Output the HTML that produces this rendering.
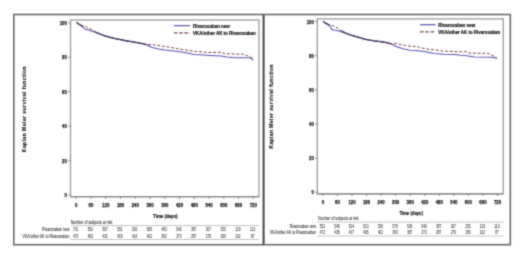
<!DOCTYPE html>
<html><head><meta charset="utf-8"><title>KM curves</title>
<style>
html,body{margin:0;padding:0;background:#fff;width:520px;height:257px;overflow:hidden}
svg{display:block}
</style></head><body>
<svg width="520" height="257" viewBox="0 0 520 257">
<style>
text{font-family:"Liberation Sans",sans-serif;fill:#1a1a1a}
.b{font-weight:bold;stroke:#1a1a1a;stroke-width:0.22px}
.n{fill:#2a2a2a;stroke:#2a2a2a;stroke-width:0.05px}
.d{font-weight:bold;stroke:#1a1a1a;stroke-width:0.25px}
</style>
<defs><filter id="f" x="0" y="0" width="520" height="257" filterUnits="userSpaceOnUse"><feConvolveMatrix order="3" kernelMatrix="0.0277 0.1110 0.0277 0.1110 0.4452 0.1110 0.0277 0.1110 0.0277" edgeMode="duplicate"/></filter></defs>
<rect x="0" y="0" width="520" height="257" fill="#fff"/>
<g filter="url(#f)">
<rect x="13.8" y="14.5" width="496.5" height="230.2" fill="none" stroke="#6c6c6c" stroke-width="1.6"/>
<line x1="263.6" y1="14.5" x2="263.6" y2="244.7" stroke="#444" stroke-width="2"/>
<rect x="70.5" y="20.0" width="188.5" height="176.7" fill="none" stroke="#9c9c9c" stroke-width="1.3"/>
<line x1="70.5" y1="196.7" x2="259.0" y2="196.7" stroke="#8c8c8c" stroke-width="1.3"/>
<line x1="68.2" y1="195.0" x2="70.5" y2="195.0" stroke="#7a7a7a" stroke-width="0.8"/>
<text x="66.90" y="197.00" font-size="5.6" text-anchor="end" textLength="2.40" lengthAdjust="spacingAndGlyphs" class="d">0</text>
<line x1="68.2" y1="160.6" x2="70.5" y2="160.6" stroke="#7a7a7a" stroke-width="0.8"/>
<text x="66.90" y="162.58" font-size="5.6" text-anchor="end" textLength="4.80" lengthAdjust="spacingAndGlyphs" class="d">20</text>
<line x1="68.2" y1="126.2" x2="70.5" y2="126.2" stroke="#7a7a7a" stroke-width="0.8"/>
<text x="66.90" y="128.16" font-size="5.6" text-anchor="end" textLength="4.80" lengthAdjust="spacingAndGlyphs" class="d">40</text>
<line x1="68.2" y1="91.7" x2="70.5" y2="91.7" stroke="#7a7a7a" stroke-width="0.8"/>
<text x="66.90" y="93.74" font-size="5.6" text-anchor="end" textLength="4.80" lengthAdjust="spacingAndGlyphs" class="d">60</text>
<line x1="68.2" y1="57.3" x2="70.5" y2="57.3" stroke="#7a7a7a" stroke-width="0.8"/>
<text x="66.90" y="59.32" font-size="5.6" text-anchor="end" textLength="4.80" lengthAdjust="spacingAndGlyphs" class="d">80</text>
<line x1="68.2" y1="22.9" x2="70.5" y2="22.9" stroke="#7a7a7a" stroke-width="0.8"/>
<text x="66.90" y="24.90" font-size="5.6" text-anchor="end" textLength="7.20" lengthAdjust="spacingAndGlyphs" class="d">100</text>
<line x1="76.2" y1="196.7" x2="76.2" y2="199.0" stroke="#7a7a7a" stroke-width="0.8"/>
<text x="76.20" y="206.90" font-size="5.6" text-anchor="middle" textLength="2.40" lengthAdjust="spacingAndGlyphs" class="d">0</text>
<line x1="91.0" y1="196.7" x2="91.0" y2="199.0" stroke="#7a7a7a" stroke-width="0.8"/>
<text x="90.96" y="206.90" font-size="5.6" text-anchor="middle" textLength="4.80" lengthAdjust="spacingAndGlyphs" class="d">60</text>
<line x1="105.7" y1="196.7" x2="105.7" y2="199.0" stroke="#7a7a7a" stroke-width="0.8"/>
<text x="105.72" y="206.90" font-size="5.6" text-anchor="middle" textLength="7.20" lengthAdjust="spacingAndGlyphs" class="d">120</text>
<line x1="120.5" y1="196.7" x2="120.5" y2="199.0" stroke="#7a7a7a" stroke-width="0.8"/>
<text x="120.48" y="206.90" font-size="5.6" text-anchor="middle" textLength="7.20" lengthAdjust="spacingAndGlyphs" class="d">180</text>
<line x1="135.2" y1="196.7" x2="135.2" y2="199.0" stroke="#7a7a7a" stroke-width="0.8"/>
<text x="135.24" y="206.90" font-size="5.6" text-anchor="middle" textLength="7.20" lengthAdjust="spacingAndGlyphs" class="d">240</text>
<line x1="150.0" y1="196.7" x2="150.0" y2="199.0" stroke="#7a7a7a" stroke-width="0.8"/>
<text x="150.00" y="206.90" font-size="5.6" text-anchor="middle" textLength="7.20" lengthAdjust="spacingAndGlyphs" class="d">300</text>
<line x1="164.8" y1="196.7" x2="164.8" y2="199.0" stroke="#7a7a7a" stroke-width="0.8"/>
<text x="164.76" y="206.90" font-size="5.6" text-anchor="middle" textLength="7.20" lengthAdjust="spacingAndGlyphs" class="d">360</text>
<line x1="179.5" y1="196.7" x2="179.5" y2="199.0" stroke="#7a7a7a" stroke-width="0.8"/>
<text x="179.52" y="206.90" font-size="5.6" text-anchor="middle" textLength="7.20" lengthAdjust="spacingAndGlyphs" class="d">420</text>
<line x1="194.3" y1="196.7" x2="194.3" y2="199.0" stroke="#7a7a7a" stroke-width="0.8"/>
<text x="194.28" y="206.90" font-size="5.6" text-anchor="middle" textLength="7.20" lengthAdjust="spacingAndGlyphs" class="d">480</text>
<line x1="209.0" y1="196.7" x2="209.0" y2="199.0" stroke="#7a7a7a" stroke-width="0.8"/>
<text x="209.04" y="206.90" font-size="5.6" text-anchor="middle" textLength="7.20" lengthAdjust="spacingAndGlyphs" class="d">540</text>
<line x1="223.8" y1="196.7" x2="223.8" y2="199.0" stroke="#7a7a7a" stroke-width="0.8"/>
<text x="223.80" y="206.90" font-size="5.6" text-anchor="middle" textLength="7.20" lengthAdjust="spacingAndGlyphs" class="d">600</text>
<line x1="238.6" y1="196.7" x2="238.6" y2="199.0" stroke="#7a7a7a" stroke-width="0.8"/>
<text x="238.56" y="206.90" font-size="5.6" text-anchor="middle" textLength="7.20" lengthAdjust="spacingAndGlyphs" class="d">660</text>
<line x1="253.3" y1="196.7" x2="253.3" y2="199.0" stroke="#7a7a7a" stroke-width="0.8"/>
<text x="253.32" y="206.90" font-size="5.6" text-anchor="middle" textLength="7.20" lengthAdjust="spacingAndGlyphs" class="d">720</text>
<text x="153.10" y="217.76" font-size="5.2" textLength="24.30" lengthAdjust="spacingAndGlyphs" class="b">Time (days)</text>
<text transform="translate(26.00,152.20) rotate(-90)" font-size="5.0" class="b" fill="#222" style="stroke:#222;stroke-width:0.15px" textLength="85.80" lengthAdjust="spacing">Kaplan Meier survival function</text>
<line x1="174.0" y1="25.7" x2="190.0" y2="25.7" stroke="#5850b6" stroke-width="1.2"/>
<line x1="174.0" y1="32.9" x2="190.0" y2="32.9" stroke="#764446" stroke-width="1.2" stroke-dasharray="3.5 1.7"/>
<text x="193.10" y="27.75" font-size="4.9" textLength="36.70" lengthAdjust="spacingAndGlyphs" class="b">Rivaroxaban new</text>
<text x="193.10" y="34.75" font-size="4.9" textLength="62.70" lengthAdjust="spacingAndGlyphs" class="b">VKA/other AK to Rivaroxaban</text>
<polyline points="76.8,22.8 83.0,27.0 85.2,29.3 88.0,29.8 92.0,31.2 96.0,32.5 100.0,34.0 105.0,36.0 115.0,38.6 119.6,39.4 124.7,40.5 134.5,42.2 142.2,43.6 146.1,44.6 152.0,47.5 158.8,49.0 165.0,50.0 169.7,50.6 179.5,51.7 187.2,53.0 194.0,54.5 203.8,55.0 210.0,55.4 221.4,55.9 226.9,57.0 235.7,57.8 248.9,57.8 252.1,58.6 252.7,60.3" fill="none" stroke="#5850b6" stroke-width="1.05"/>
<polyline points="76.8,22.8 82.5,25.8 85.5,26.2 88.0,27.9 92.7,30.0 95.8,31.8 100.0,34.0 105.0,36.0 115.0,38.6 124.7,40.5 134.5,42.2 142.2,43.6 146.1,44.6 152.0,44.6 158.8,45.6 160.0,45.7 165.0,46.5 169.7,47.2 179.5,49.1 189.2,50.6 198.9,51.7 210.0,52.5 221.4,52.3 224.7,53.7 243.4,54.3 247.8,55.9 252.1,58.1 252.7,59.7" fill="none" stroke="#764446" stroke-width="1.0" stroke-dasharray="2.9 1.8"/>
<polyline points="76.8,22.8 82.5,26.2" fill="none" stroke="#4a3e62" stroke-width="1.3" stroke-linecap="round"/>
<polyline points="96.0,32.4 100.0,34.0 105.0,36.0 115.0,38.6 119.6,39.4 124.7,40.5 134.5,42.2 142.2,43.6 146.1,44.6" fill="none" stroke="#4a3e62" stroke-width="1.3" stroke-linecap="round"/>
<text x="70.70" y="223.95" font-size="4.9" textLength="41.60" lengthAdjust="spacingAndGlyphs" class="n">Number of subjects at risk</text>
<line x1="70.5" y1="225.6" x2="259.0" y2="225.6" stroke="#999" stroke-width="0.6"/>
<line x1="70.5" y1="239.5" x2="259.0" y2="239.5" stroke="#999" stroke-width="0.6"/>
<text x="69.60" y="231.15" font-size="4.9" text-anchor="end" textLength="27.50" lengthAdjust="spacingAndGlyphs" class="n">Rivaroxaban new</text>
<text x="69.60" y="238.05" font-size="4.9" text-anchor="end" textLength="47.10" lengthAdjust="spacingAndGlyphs" class="n">VKA/other AK to Rivaroxaban</text>
<text x="75.60" y="231.15" font-size="4.9" text-anchor="middle" textLength="5.25" lengthAdjust="spacingAndGlyphs" class="n">731</text>
<text x="75.60" y="238.05" font-size="4.9" text-anchor="middle" textLength="5.25" lengthAdjust="spacingAndGlyphs" class="n">473</text>
<text x="90.36" y="231.15" font-size="4.9" text-anchor="middle" textLength="5.25" lengthAdjust="spacingAndGlyphs" class="n">592</text>
<text x="90.36" y="238.05" font-size="4.9" text-anchor="middle" textLength="5.25" lengthAdjust="spacingAndGlyphs" class="n">453</text>
<text x="105.12" y="231.15" font-size="4.9" text-anchor="middle" textLength="5.25" lengthAdjust="spacingAndGlyphs" class="n">567</text>
<text x="105.12" y="238.05" font-size="4.9" text-anchor="middle" textLength="5.25" lengthAdjust="spacingAndGlyphs" class="n">431</text>
<text x="119.88" y="231.15" font-size="4.9" text-anchor="middle" textLength="5.25" lengthAdjust="spacingAndGlyphs" class="n">551</text>
<text x="119.88" y="238.05" font-size="4.9" text-anchor="middle" textLength="5.25" lengthAdjust="spacingAndGlyphs" class="n">419</text>
<text x="134.64" y="231.15" font-size="4.9" text-anchor="middle" textLength="5.25" lengthAdjust="spacingAndGlyphs" class="n">526</text>
<text x="134.64" y="238.05" font-size="4.9" text-anchor="middle" textLength="5.25" lengthAdjust="spacingAndGlyphs" class="n">414</text>
<text x="149.40" y="231.15" font-size="4.9" text-anchor="middle" textLength="5.25" lengthAdjust="spacingAndGlyphs" class="n">509</text>
<text x="149.40" y="238.05" font-size="4.9" text-anchor="middle" textLength="5.25" lengthAdjust="spacingAndGlyphs" class="n">402</text>
<text x="164.16" y="231.15" font-size="4.9" text-anchor="middle" textLength="5.25" lengthAdjust="spacingAndGlyphs" class="n">493</text>
<text x="164.16" y="238.05" font-size="4.9" text-anchor="middle" textLength="5.25" lengthAdjust="spacingAndGlyphs" class="n">392</text>
<text x="178.92" y="231.15" font-size="4.9" text-anchor="middle" textLength="5.25" lengthAdjust="spacingAndGlyphs" class="n">540</text>
<text x="178.92" y="238.05" font-size="4.9" text-anchor="middle" textLength="5.25" lengthAdjust="spacingAndGlyphs" class="n">373</text>
<text x="193.68" y="231.15" font-size="4.9" text-anchor="middle" textLength="5.25" lengthAdjust="spacingAndGlyphs" class="n">387</text>
<text x="193.68" y="238.05" font-size="4.9" text-anchor="middle" textLength="5.25" lengthAdjust="spacingAndGlyphs" class="n">287</text>
<text x="208.44" y="231.15" font-size="4.9" text-anchor="middle" textLength="5.25" lengthAdjust="spacingAndGlyphs" class="n">367</text>
<text x="208.44" y="238.05" font-size="4.9" text-anchor="middle" textLength="5.25" lengthAdjust="spacingAndGlyphs" class="n">279</text>
<text x="223.20" y="231.15" font-size="4.9" text-anchor="middle" textLength="5.25" lengthAdjust="spacingAndGlyphs" class="n">255</text>
<text x="223.20" y="238.05" font-size="4.9" text-anchor="middle" textLength="5.25" lengthAdjust="spacingAndGlyphs" class="n">186</text>
<text x="237.96" y="231.15" font-size="4.9" text-anchor="middle" textLength="5.25" lengthAdjust="spacingAndGlyphs" class="n">119</text>
<text x="237.96" y="238.05" font-size="4.9" text-anchor="middle" textLength="5.25" lengthAdjust="spacingAndGlyphs" class="n">102</text>
<text x="252.72" y="231.15" font-size="4.9" text-anchor="middle" textLength="5.25" lengthAdjust="spacingAndGlyphs" class="n">113</text>
<text x="252.72" y="238.05" font-size="4.9" text-anchor="middle" textLength="3.50" lengthAdjust="spacingAndGlyphs" class="n">87</text>
<rect x="317.3" y="18.9" width="186.0" height="174.9" fill="none" stroke="#9c9c9c" stroke-width="1.3"/>
<line x1="317.3" y1="193.8" x2="503.3" y2="193.8" stroke="#8c8c8c" stroke-width="1.3"/>
<line x1="315.0" y1="192.2" x2="317.3" y2="192.2" stroke="#7a7a7a" stroke-width="0.8"/>
<text x="313.90" y="194.20" font-size="5.6" text-anchor="end" textLength="2.40" lengthAdjust="spacingAndGlyphs" class="d">0</text>
<line x1="315.0" y1="158.1" x2="317.3" y2="158.1" stroke="#7a7a7a" stroke-width="0.8"/>
<text x="313.90" y="160.08" font-size="5.6" text-anchor="end" textLength="4.80" lengthAdjust="spacingAndGlyphs" class="d">20</text>
<line x1="315.0" y1="124.0" x2="317.3" y2="124.0" stroke="#7a7a7a" stroke-width="0.8"/>
<text x="313.90" y="125.96" font-size="5.6" text-anchor="end" textLength="4.80" lengthAdjust="spacingAndGlyphs" class="d">40</text>
<line x1="315.0" y1="89.8" x2="317.3" y2="89.8" stroke="#7a7a7a" stroke-width="0.8"/>
<text x="313.90" y="91.84" font-size="5.6" text-anchor="end" textLength="4.80" lengthAdjust="spacingAndGlyphs" class="d">60</text>
<line x1="315.0" y1="55.7" x2="317.3" y2="55.7" stroke="#7a7a7a" stroke-width="0.8"/>
<text x="313.90" y="57.72" font-size="5.6" text-anchor="end" textLength="4.80" lengthAdjust="spacingAndGlyphs" class="d">80</text>
<line x1="315.0" y1="21.6" x2="317.3" y2="21.6" stroke="#7a7a7a" stroke-width="0.8"/>
<text x="313.90" y="23.60" font-size="5.6" text-anchor="end" textLength="7.20" lengthAdjust="spacingAndGlyphs" class="d">100</text>
<line x1="322.9" y1="193.8" x2="322.9" y2="196.1" stroke="#7a7a7a" stroke-width="0.8"/>
<text x="322.90" y="203.90" font-size="5.6" text-anchor="middle" textLength="2.40" lengthAdjust="spacingAndGlyphs" class="d">0</text>
<line x1="337.4" y1="193.8" x2="337.4" y2="196.1" stroke="#7a7a7a" stroke-width="0.8"/>
<text x="337.45" y="203.90" font-size="5.6" text-anchor="middle" textLength="4.80" lengthAdjust="spacingAndGlyphs" class="d">60</text>
<line x1="352.0" y1="193.8" x2="352.0" y2="196.1" stroke="#7a7a7a" stroke-width="0.8"/>
<text x="352.00" y="203.90" font-size="5.6" text-anchor="middle" textLength="7.20" lengthAdjust="spacingAndGlyphs" class="d">120</text>
<line x1="366.5" y1="193.8" x2="366.5" y2="196.1" stroke="#7a7a7a" stroke-width="0.8"/>
<text x="366.55" y="203.90" font-size="5.6" text-anchor="middle" textLength="7.20" lengthAdjust="spacingAndGlyphs" class="d">180</text>
<line x1="381.1" y1="193.8" x2="381.1" y2="196.1" stroke="#7a7a7a" stroke-width="0.8"/>
<text x="381.10" y="203.90" font-size="5.6" text-anchor="middle" textLength="7.20" lengthAdjust="spacingAndGlyphs" class="d">240</text>
<line x1="395.6" y1="193.8" x2="395.6" y2="196.1" stroke="#7a7a7a" stroke-width="0.8"/>
<text x="395.65" y="203.90" font-size="5.6" text-anchor="middle" textLength="7.20" lengthAdjust="spacingAndGlyphs" class="d">300</text>
<line x1="410.2" y1="193.8" x2="410.2" y2="196.1" stroke="#7a7a7a" stroke-width="0.8"/>
<text x="410.20" y="203.90" font-size="5.6" text-anchor="middle" textLength="7.20" lengthAdjust="spacingAndGlyphs" class="d">360</text>
<line x1="424.8" y1="193.8" x2="424.8" y2="196.1" stroke="#7a7a7a" stroke-width="0.8"/>
<text x="424.75" y="203.90" font-size="5.6" text-anchor="middle" textLength="7.20" lengthAdjust="spacingAndGlyphs" class="d">420</text>
<line x1="439.3" y1="193.8" x2="439.3" y2="196.1" stroke="#7a7a7a" stroke-width="0.8"/>
<text x="439.30" y="203.90" font-size="5.6" text-anchor="middle" textLength="7.20" lengthAdjust="spacingAndGlyphs" class="d">480</text>
<line x1="453.9" y1="193.8" x2="453.9" y2="196.1" stroke="#7a7a7a" stroke-width="0.8"/>
<text x="453.85" y="203.90" font-size="5.6" text-anchor="middle" textLength="7.20" lengthAdjust="spacingAndGlyphs" class="d">540</text>
<line x1="468.4" y1="193.8" x2="468.4" y2="196.1" stroke="#7a7a7a" stroke-width="0.8"/>
<text x="468.40" y="203.90" font-size="5.6" text-anchor="middle" textLength="7.20" lengthAdjust="spacingAndGlyphs" class="d">600</text>
<line x1="482.9" y1="193.8" x2="482.9" y2="196.1" stroke="#7a7a7a" stroke-width="0.8"/>
<text x="482.95" y="203.90" font-size="5.6" text-anchor="middle" textLength="7.20" lengthAdjust="spacingAndGlyphs" class="d">660</text>
<line x1="497.5" y1="193.8" x2="497.5" y2="196.1" stroke="#7a7a7a" stroke-width="0.8"/>
<text x="497.50" y="203.90" font-size="5.6" text-anchor="middle" textLength="7.20" lengthAdjust="spacingAndGlyphs" class="d">720</text>
<text x="399.40" y="214.76" font-size="5.2" textLength="23.50" lengthAdjust="spacingAndGlyphs" class="b">Time (days)</text>
<text transform="translate(273.10,148.60) rotate(-90)" font-size="5.0" class="b" fill="#222" style="stroke:#222;stroke-width:0.15px" textLength="84.20" lengthAdjust="spacing">Kaplan Meier survival function</text>
<line x1="420.1" y1="24.7" x2="435.5" y2="24.7" stroke="#5850b6" stroke-width="1.2"/>
<line x1="420.1" y1="31.9" x2="435.5" y2="31.9" stroke="#764446" stroke-width="1.2" stroke-dasharray="3.5 1.7"/>
<text x="438.30" y="26.75" font-size="4.9" textLength="37.00" lengthAdjust="spacingAndGlyphs" class="b">Rivaroxaban new</text>
<text x="438.30" y="33.85" font-size="4.9" textLength="61.90" lengthAdjust="spacingAndGlyphs" class="b">VKA/other AK to Rivaroxaban</text>
<polyline points="323.4,21.7 330.0,25.8 331.5,29.2 334.3,30.1 338.7,31.1 346.0,33.3 352.0,35.5 365.0,39.2 368.0,39.8 374.7,40.9 384.5,42.2 390.3,43.6 396.1,46.5 403.9,49.0 410.0,50.2 415.0,50.4 424.6,51.6 434.3,53.6 444.0,54.3 455.0,54.6 460.0,55.3 464.7,55.4 474.5,57.0 492.0,57.3 495.9,58.0 496.8,58.7" fill="none" stroke="#5850b6" stroke-width="1.05"/>
<polyline points="323.4,21.7 330.0,25.5 331.5,25.2 334.3,26.4 337.4,28.0 339.9,29.8 342.0,31.0 346.0,33.3 352.0,35.5 365.0,39.2 374.7,40.9 384.5,42.2 390.3,43.6 396.1,43.6 403.9,45.1 410.0,46.3 415.0,46.5 419.7,47.2 424.6,48.7 434.3,49.9 444.0,51.1 455.0,51.5 466.7,51.9 468.6,53.1 488.1,53.4 491.0,54.6 494.9,56.5 496.8,58.0" fill="none" stroke="#764446" stroke-width="1.0" stroke-dasharray="2.9 1.8"/>
<polyline points="323.4,21.7 329.5,25.4" fill="none" stroke="#4a3e62" stroke-width="1.3" stroke-linecap="round"/>
<polyline points="342.5,31.4 346.0,33.3 352.0,35.5 365.0,39.2 368.0,39.8 374.7,40.9 384.5,42.2 390.3,43.6" fill="none" stroke="#4a3e62" stroke-width="1.3" stroke-linecap="round"/>
<text x="318.00" y="220.25" font-size="4.9" textLength="40.50" lengthAdjust="spacingAndGlyphs" class="n">Number of subjects at risk</text>
<line x1="317.3" y1="222.1" x2="504.0" y2="222.1" stroke="#999" stroke-width="0.6"/>
<line x1="317.3" y1="236.0" x2="504.0" y2="236.0" stroke="#999" stroke-width="0.6"/>
<text x="315.90" y="227.75" font-size="4.9" text-anchor="end" textLength="26.20" lengthAdjust="spacingAndGlyphs" class="n">Rivaroxaban new</text>
<text x="315.90" y="234.45" font-size="4.9" text-anchor="end" textLength="46.20" lengthAdjust="spacingAndGlyphs" class="n">VKA/other AK to Rivaroxaban</text>
<text x="322.30" y="227.75" font-size="4.9" text-anchor="middle" textLength="5.25" lengthAdjust="spacingAndGlyphs" class="n">552</text>
<text x="322.30" y="234.45" font-size="4.9" text-anchor="middle" textLength="5.25" lengthAdjust="spacingAndGlyphs" class="n">472</text>
<text x="336.85" y="227.75" font-size="4.9" text-anchor="middle" textLength="5.25" lengthAdjust="spacingAndGlyphs" class="n">548</text>
<text x="336.85" y="234.45" font-size="4.9" text-anchor="middle" textLength="5.25" lengthAdjust="spacingAndGlyphs" class="n">438</text>
<text x="351.40" y="227.75" font-size="4.9" text-anchor="middle" textLength="5.25" lengthAdjust="spacingAndGlyphs" class="n">524</text>
<text x="351.40" y="234.45" font-size="4.9" text-anchor="middle" textLength="5.25" lengthAdjust="spacingAndGlyphs" class="n">417</text>
<text x="365.95" y="227.75" font-size="4.9" text-anchor="middle" textLength="5.25" lengthAdjust="spacingAndGlyphs" class="n">513</text>
<text x="365.95" y="234.45" font-size="4.9" text-anchor="middle" textLength="5.25" lengthAdjust="spacingAndGlyphs" class="n">405</text>
<text x="380.50" y="227.75" font-size="4.9" text-anchor="middle" textLength="5.25" lengthAdjust="spacingAndGlyphs" class="n">536</text>
<text x="380.50" y="234.45" font-size="4.9" text-anchor="middle" textLength="5.25" lengthAdjust="spacingAndGlyphs" class="n">401</text>
<text x="395.05" y="227.75" font-size="4.9" text-anchor="middle" textLength="5.25" lengthAdjust="spacingAndGlyphs" class="n">579</text>
<text x="395.05" y="234.45" font-size="4.9" text-anchor="middle" textLength="5.25" lengthAdjust="spacingAndGlyphs" class="n">393</text>
<text x="409.60" y="227.75" font-size="4.9" text-anchor="middle" textLength="5.25" lengthAdjust="spacingAndGlyphs" class="n">509</text>
<text x="409.60" y="234.45" font-size="4.9" text-anchor="middle" textLength="5.25" lengthAdjust="spacingAndGlyphs" class="n">387</text>
<text x="424.15" y="227.75" font-size="4.9" text-anchor="middle" textLength="5.25" lengthAdjust="spacingAndGlyphs" class="n">540</text>
<text x="424.15" y="234.45" font-size="4.9" text-anchor="middle" textLength="5.25" lengthAdjust="spacingAndGlyphs" class="n">373</text>
<text x="438.70" y="227.75" font-size="4.9" text-anchor="middle" textLength="5.25" lengthAdjust="spacingAndGlyphs" class="n">387</text>
<text x="438.70" y="234.45" font-size="4.9" text-anchor="middle" textLength="5.25" lengthAdjust="spacingAndGlyphs" class="n">287</text>
<text x="453.25" y="227.75" font-size="4.9" text-anchor="middle" textLength="5.25" lengthAdjust="spacingAndGlyphs" class="n">367</text>
<text x="453.25" y="234.45" font-size="4.9" text-anchor="middle" textLength="5.25" lengthAdjust="spacingAndGlyphs" class="n">279</text>
<text x="467.80" y="227.75" font-size="4.9" text-anchor="middle" textLength="5.25" lengthAdjust="spacingAndGlyphs" class="n">255</text>
<text x="467.80" y="234.45" font-size="4.9" text-anchor="middle" textLength="5.25" lengthAdjust="spacingAndGlyphs" class="n">186</text>
<text x="482.35" y="227.75" font-size="4.9" text-anchor="middle" textLength="5.25" lengthAdjust="spacingAndGlyphs" class="n">119</text>
<text x="482.35" y="234.45" font-size="4.9" text-anchor="middle" textLength="5.25" lengthAdjust="spacingAndGlyphs" class="n">102</text>
<text x="496.90" y="227.75" font-size="4.9" text-anchor="middle" textLength="5.25" lengthAdjust="spacingAndGlyphs" class="n">113</text>
<text x="496.90" y="234.45" font-size="4.9" text-anchor="middle" textLength="3.50" lengthAdjust="spacingAndGlyphs" class="n">87</text>
</g>
</svg>
</body></html>
